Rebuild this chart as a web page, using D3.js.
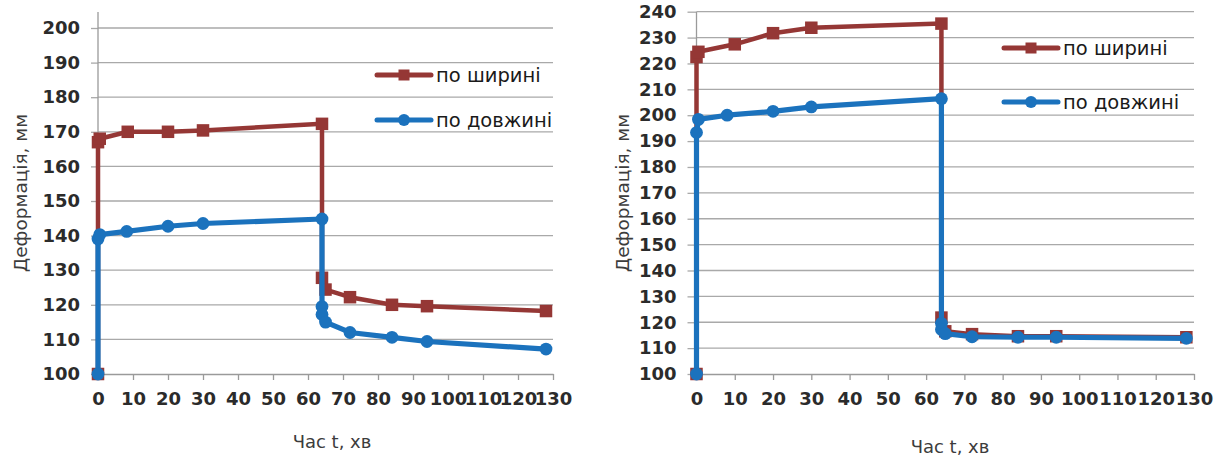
<!DOCTYPE html>
<html>
<head>
<meta charset="utf-8">
<script src="https://cdn.jsdelivr.net/npm/d3@7"></script>
<style>
  html, body { margin: 0; padding: 0; background: #fff; }
  svg { display: block; }
</style>
</head>
<body>
<svg id="chart" width="1222" height="460"></svg>
<script>
// ---- data ----
const seriesNames = ["по ширині", "по довжині"];

// Chart 1: deformation over time
const c1WidthT   = [0, 0, 0.5, 8.5, 20, 30, 64, 64, 65, 72, 84, 94, 128];
const c1WidthV   = [100, 167, 168, 170, 170, 170.4, 172.3, 127.8, 124.4, 122.2, 120, 119.6, 118.2];
const c1LengthT  = [0, 0, 0.5, 8.2, 20, 30, 64, 64, 64, 65, 72, 84, 94, 128];
const c1LengthV  = [100, 139, 140.3, 141.2, 142.7, 143.5, 144.8, 119.5, 117.2, 115, 112, 110.6, 109.4, 107.2];

// Chart 2: deformation over time
const c2WidthT   = [0, 0, 0.5, 10, 20, 30, 64, 64, 65, 72, 84, 94, 128];
const c2WidthV   = [100, 222.5, 224.5, 227.4, 231.7, 233.8, 235.4, 121.8, 116.5, 115.4, 114.6, 114.6, 114.2];
const c2LengthT  = [0, 0, 0.5, 8, 20, 30, 64, 64, 64, 65, 72, 84, 94, 128];
const c2LengthV  = [100, 193.3, 198.4, 200, 201.5, 203.2, 206.4, 119.6, 117.2, 115.6, 114.4, 114.2, 114.2, 113.8];

const xTicks  = [0, 10, 20, 30, 40, 50, 60, 70, 80, 90, 100, 110, 120, 130];
const y1Ticks = [100, 110, 120, 130, 140, 150, 160, 170, 180, 190, 200];
const y2Ticks = [100, 110, 120, 130, 140, 150, 160, 170, 180, 190, 200, 210, 220, 230, 240];

const xTitle = "Час t, хв";
const yTitle = "Деформація, мм";

// ---- styles ----
const RED = "#953735";
const BLUE = "#1b72bd";
const GRID = "#a9a9a9";
const AXIS = "#9a9a9a";
const TICK_TEXT = "#2b2b2b";
const TITLE_TEXT = "#3c3c3c";
const FONT = "'DejaVu Sans', sans-serif";

const svg = d3.select("#chart");

function drawChart(cfg) {
  const x = d3.scaleLinear().domain([0, 130]).range([cfg.left, cfg.right]);
  const y = d3.scaleLinear().domain(cfg.yDomain).range([cfg.bottom, cfg.yTopPx]);
  const g = svg.append("g");

  // horizontal gridlines
  g.append("g").selectAll("line").data(cfg.yTicks.filter(v => v > cfg.yDomain[0]))
    .join("line")
    .attr("x1", cfg.left).attr("x2", cfg.right)
    .attr("y1", d => y(d)).attr("y2", d => y(d))
    .attr("stroke", GRID).attr("stroke-width", 1.3);

  // y axis
  const yAxis = g.append("g")
    .attr("transform", `translate(${cfg.left},0)`)
    .call(d3.axisLeft(y).tickValues(cfg.yTicks).tickSize(cfg.yTickLen).tickPadding(cfg.yPad).tickSizeOuter(0));
  yAxis.select(".domain").remove();
  yAxis.append("line")
    .attr("x1", 0).attr("x2", 0).attr("y1", cfg.plotTop).attr("y2", cfg.bottom)
    .attr("stroke", AXIS).attr("stroke-width", 1.3);
  yAxis.selectAll(".tick line").attr("stroke", GRID).attr("stroke-width", 1.3);
  yAxis.selectAll(".tick text")
    .attr("fill", TICK_TEXT).style("font-family", FONT)
    .style("font-size", "18px").style("font-weight", "bold");

  // x axis
  const xAxis = g.append("g")
    .attr("transform", `translate(0,${cfg.bottom})`)
    .call(d3.axisBottom(x).tickValues(xTicks).tickSize(6).tickPadding(12).tickSizeOuter(0));
  xAxis.select(".domain").attr("stroke", AXIS).attr("stroke-width", 1.3);
  xAxis.selectAll(".tick line").attr("stroke", AXIS).attr("stroke-width", 1.3);
  xAxis.selectAll(".tick text")
    .attr("fill", TICK_TEXT).style("font-family", FONT)
    .style("font-size", "18px").style("font-weight", "bold");

  // axis titles
  g.append("text")
    .attr("x", cfg.xTitleX).attr("y", cfg.xTitleY)
    .attr("text-anchor", "middle")
    .attr("fill", TITLE_TEXT).style("font-family", FONT).style("font-size", "18px")
    .text(xTitle);
  g.append("text")
    .attr("transform", `translate(${cfg.yTitleX},${cfg.yTitleY}) rotate(-90)`)
    .attr("text-anchor", "middle").attr("dominant-baseline", "central")
    .attr("fill", TITLE_TEXT).style("font-family", FONT).style("font-size", "18.5px")
    .text(yTitle);

  const line = d3.line().x(d => x(d[0])).y(d => y(d[1]));
  const widthPts = cfg.widthT.map((t, i) => [t, cfg.widthV[i]]);
  const lengthPts = cfg.lengthT.map((t, i) => [t, cfg.lengthV[i]]);

  // width series: line + square markers
  g.append("path").datum(widthPts)
    .attr("d", line).attr("fill", "none")
    .attr("stroke", RED).attr("stroke-width", 4.5).attr("stroke-linejoin", "round");
  const sq = 12.5;
  g.append("g").selectAll("rect").data(widthPts).join("rect")
    .attr("x", d => x(d[0]) - sq / 2).attr("y", d => y(d[1]) - sq / 2)
    .attr("width", sq).attr("height", sq).attr("fill", RED);

  // length series: line + circle markers
  g.append("path").datum(lengthPts)
    .attr("d", line).attr("fill", "none")
    .attr("stroke", BLUE).attr("stroke-width", 5.2).attr("stroke-linejoin", "round");
  g.append("g").selectAll("circle").data(lengthPts).join("circle")
    .attr("cx", d => x(d[0])).attr("cy", d => y(d[1]))
    .attr("r", 6.4).attr("fill", BLUE);

  // legend
  const legend = g.append("g");
  const items = [
    { name: seriesNames[0], color: RED, shape: "square", y: cfg.legendY[0] },
    { name: seriesNames[1], color: BLUE, shape: "circle", y: cfg.legendY[1] }
  ];
  items.forEach(it => {
    const lx0 = cfg.legendX, lx1 = cfg.legendX + 54, mid = (lx0 + lx1) / 2;
    legend.append("line")
      .attr("x1", lx0).attr("x2", lx1).attr("y1", it.y).attr("y2", it.y)
      .attr("stroke", it.color).attr("stroke-width", 5).attr("stroke-linecap", "round");
    if (it.shape === "square") {
      legend.append("rect").attr("x", mid - 5.5).attr("y", it.y - 5.5)
        .attr("width", 11).attr("height", 11).attr("fill", it.color);
    } else {
      legend.append("circle").attr("cx", mid).attr("cy", it.y).attr("r", 6).attr("fill", it.color);
    }
    legend.append("text")
      .attr("x", lx1 + 5).attr("y", it.y)
      .attr("dominant-baseline", "central")
      .attr("fill", "#1a1a1a").style("font-family", FONT).style("font-size", "19.5px")
      .text(it.name);
  });
}

drawChart({
  left: 98, right: 553, bottom: 374, yTopPx: 28, plotTop: 12,
  yDomain: [100, 200], yTicks: y1Ticks, yTickLen: 7, yPad: 11,
  widthT: c1WidthT, widthV: c1WidthV, lengthT: c1LengthT, lengthV: c1LengthV,
  xTitleX: 332, xTitleY: 448, yTitleX: 20, yTitleY: 193,
  legendX: 377, legendY: [75, 120]
});

drawChart({
  left: 696.5, right: 1194, bottom: 374, yTopPx: 11.7, plotTop: 11.7,
  yDomain: [100, 240], yTicks: y2Ticks, yTickLen: 9, yPad: 11,
  widthT: c2WidthT, widthV: c2WidthV, lengthT: c2LengthT, lengthV: c2LengthV,
  xTitleX: 950, xTitleY: 453, yTitleX: 622, yTitleY: 193,
  legendX: 1004, legendY: [48, 102]
});
</script>
</body>
</html>
